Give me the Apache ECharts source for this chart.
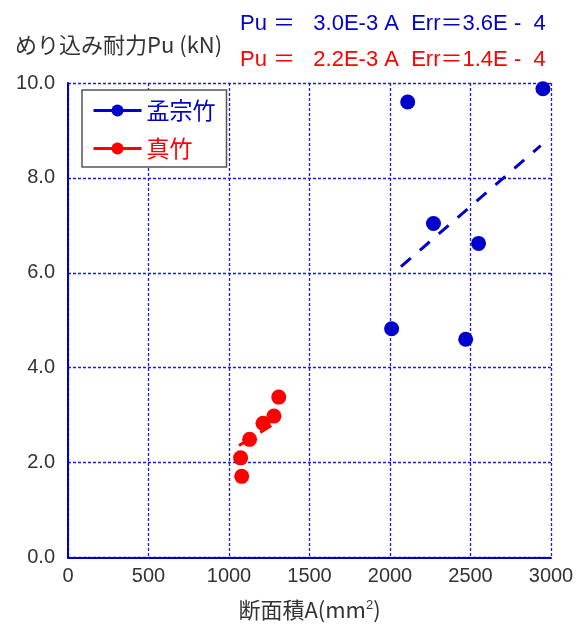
<!DOCTYPE html>
<html><head><meta charset="utf-8">
<script src="https://cdn.jsdelivr.net/npm/echarts@6/dist/echarts.min.js"></script>
<style>html,body{margin:0;padding:0;background:#fff}#c{width:586px;height:626px}</style>
</head><body><div id="c"></div>
<script>
const seriesNames = ['孟宗竹', '真竹'];
const mosoA = [2010, 2110, 2270, 2470, 2550, 2950];
const mosoPu = [4.82, 9.60, 7.04, 4.60, 6.62, 9.88];
const madakeA = [1072, 1079, 1128, 1211, 1279, 1309];
const madakePu = [2.10, 1.71, 2.49, 2.83, 2.98, 3.38];
const mosoFitA = [2068, 2936];
const mosoFitPu = [6.13, 8.68];
const madakeFitA = [1062, 1300];
const madakeFitPu = [2.36, 2.86];
const xTicks = [0, 500, 1000, 1500, 2000, 2500, 3000];
const yTicks = [0, 2, 4, 6, 8, 10];
const fitTexts = ['Pu ＝   3.0E-3 A  Err＝3.6E -  4', 'Pu ＝   2.2E-3 A  Err＝1.4E -  4'];
const yTitle = 'めり込み耐力Pu (kN)';
const xTitle = '断面積A(mm{s|2})';

const BLUE = '#0000cc', RED = '#ff0000', GRIDC = '#1a1add';
const zip = (a, b) => a.map((v, i) => [v, b[i]]);
const chart = echarts.init(document.getElementById('c'));
const numFont = '"Liberation Sans", Arial, sans-serif';
const jpFont = '"Noto Sans CJK JP", sans-serif';
chart.setOption({
  animation: false,
  grid: { left: 68, right: 35, top: 83, bottom: 67 },
  xAxis: {
    type: 'value', min: xTicks[0], max: xTicks[xTicks.length - 1], interval: 500,
    axisLine: { show: true, onZero: false, lineStyle: { color: BLUE, width: 2 } },
    axisTick: { show: false },
    splitLine: { show: true, lineStyle: { color: GRIDC, width: 1.3, type: [3, 2] } },
    axisLabel: { color: '#333', fontSize: 20, fontFamily: numFont, margin: 9, formatter: v => String(v) },
    name: xTitle, nameLocation: 'middle', nameGap: 41,
    nameTextStyle: { color: '#333', fontSize: 22, fontFamily: jpFont,
      rich: { s: { fontSize: 13, color: '#333', fontFamily: numFont, padding: [0, 0, 10, 0] } } }
  },
  yAxis: {
    type: 'value', min: yTicks[0], max: yTicks[yTicks.length - 1], interval: 2,
    axisLine: { show: true, onZero: false, lineStyle: { color: BLUE, width: 2 } },
    axisTick: { show: false },
    splitLine: { show: true, lineStyle: { color: GRIDC, width: 1.3, type: [3, 2] } },
    axisLabel: { color: '#333', fontSize: 20, fontFamily: numFont, margin: 13, formatter: v => v.toFixed(1) }
  },
  legend: {
    orient: 'vertical', left: 82, top: 90,
    backgroundColor: '#fff',
    borderColor: '#555', borderWidth: 1.5, borderRadius: 0,
    padding: [9, 11, 7, 10], itemGap: 15, itemWidth: 48, itemHeight: 15,
    lineStyle: { width: 3, opacity: 1 },
    textStyle: { fontSize: 23, fontFamily: jpFont },
    data: [
      { name: seriesNames[0], textStyle: { color: BLUE } },
      { name: seriesNames[1], textStyle: { color: RED } }
    ]
  },
  graphic: [
    { type: 'text', x: 15, y: 45, style: { text: yTitle, fill: '#333', font: '22px "Noto Sans CJK JP", sans-serif', verticalAlign: 'middle' } },
    { type: 'text', x: 240, y: 24, style: { text: fitTexts[0], fill: BLUE, font: '22px "Liberation Sans", "Noto Sans CJK JP", sans-serif', verticalAlign: 'middle' } },
    { type: 'text', x: 240, y: 60, style: { text: fitTexts[1], fill: RED, font: '22px "Liberation Sans", "Noto Sans CJK JP", sans-serif', verticalAlign: 'middle' } }
  ],
  series: [
    { name: seriesNames[0], type: 'line', data: zip(mosoA, mosoPu), symbol: 'circle', symbolSize: 15,
      itemStyle: { color: BLUE }, lineStyle: { width: 0, color: BLUE }, z: 5 },
    { name: seriesNames[1], type: 'line', data: zip(madakeA, madakePu), symbol: 'circle', symbolSize: 15,
      itemStyle: { color: RED }, lineStyle: { width: 0, color: RED }, z: 5 },
    { name: 'fit1', type: 'line', data: zip(mosoFitA, mosoFitPu), symbol: 'none',
      lineStyle: { color: BLUE, width: 3, type: [13, 12] }, z: 4 },
    { name: 'fit2', type: 'line', data: zip(madakeFitA, madakeFitPu), symbol: 'none',
      lineStyle: { color: RED, width: 3, type: [13, 12] }, z: 4 }
  ]
});
</script></body></html>
